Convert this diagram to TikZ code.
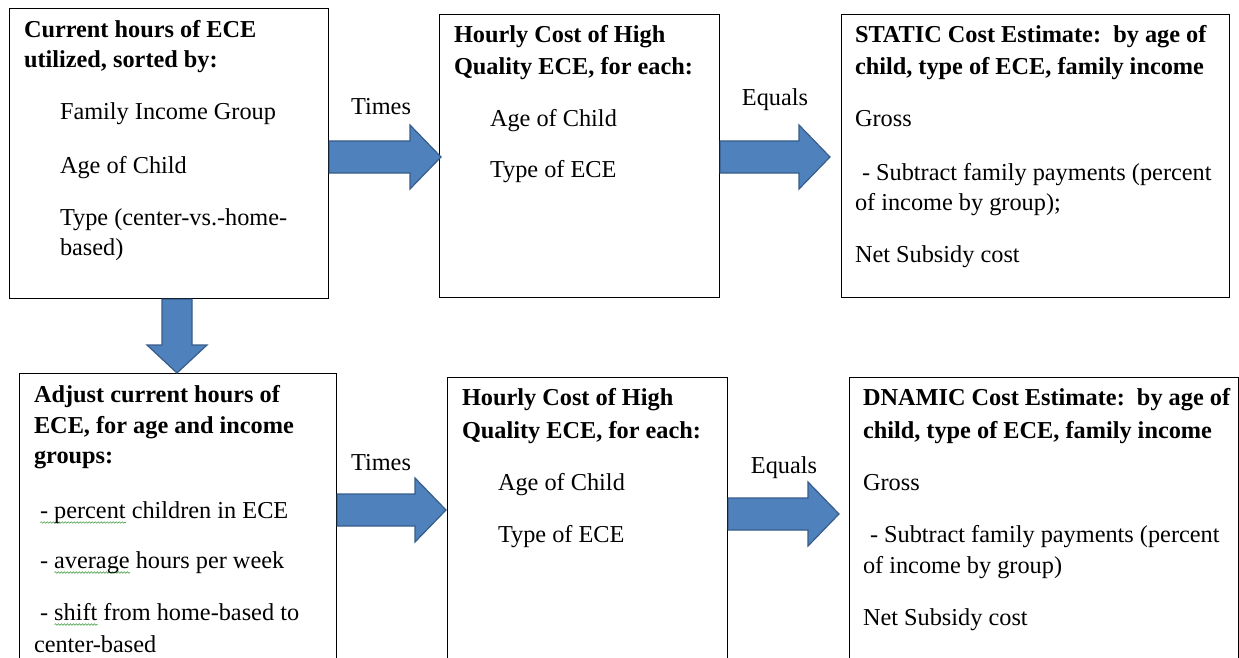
\documentclass[tikz,border=0pt]{standalone}
\usepackage{fontspec}
\setmainfont{Liberation Serif}
\usetikzlibrary{calc,decorations.pathmorphing}

\definecolor{arrowfill}{RGB}{79,129,189}
\definecolor{arrowline}{RGB}{56,93,138}
\definecolor{spellgreen}{RGB}{70,160,70}

% wavy green underline under a word
\newlength\spellwd
\newcommand\spellmark[1]{\settowidth\spellwd{#1}\leavevmode\rlap{\tikz[baseline=0pt]\draw[spellgreen,line width=0.55pt,decorate,decoration={snake,amplitude=0.8pt,segment length=3pt}] (0pt,-4.5pt) -- (\spellwd,-4.5pt);}#1}

% horizontal block arrow from the x of #1 to the tip #2
\newcommand\harrow[2]{\filldraw[blockarrow] let \p1=(#1), \p2=(#2) in
  (\x1,\y2+16pt) -- (\x2-31pt,\y2+16pt) -- (\x2-31pt,\y2+32pt) -- (\x2,\y2)
  -- (\x2-31pt,\y2-32pt) -- (\x2-31pt,\y2-16pt) -- (\x1,\y2-16pt) -- cycle;}
% vertical block arrow from the y of #1 down to the tip #2
\newcommand\varrow[2]{\filldraw[blockarrow] let \p1=(#1), \p2=(#2) in
  (\x2-15pt,\y1) -- (\x2-15pt,\y2+28pt) -- (\x2-30pt,\y2+28pt) -- (\x2,\y2)
  -- (\x2+30pt,\y2+28pt) -- (\x2+15pt,\y2+28pt) -- (\x2+15pt,\y1) -- cycle;}

\tikzset{
  box/.style={draw=black,line width=1.1pt,fill=white,anchor=north west,inner sep=0pt},
  blockarrow/.style={fill=arrowfill,draw=arrowline,line width=1.2pt,line join=miter},
  line/.style={anchor=base west,inner sep=0pt,outer sep=0pt},
  lbl/.style={anchor=base,inner sep=0pt},
}

\begin{document}
\begin{tikzpicture}[x=1pt,y=-1pt,font=\fontsize{24.3}{29}\selectfont]
\useasboundingbox (0,0) rectangle (1239,658);
\clip (0,0) rectangle (1239,658);
\fill[white] (0,0) rectangle (1239,658);

% boxes
\node[box,minimum width=319pt,minimum height=290pt] (A) at (9,8) {};
\node[box,minimum width=280pt,minimum height=283pt] (B) at (439,14) {};
\node[box,minimum width=388pt,minimum height=283pt] (C) at (841,14) {};
\node[box,minimum width=317pt,minimum height=330pt] (D) at (19,373) {};
\node[box,minimum width=280pt,minimum height=330pt] (E) at (447,377) {};
\node[box,minimum width=389pt,minimum height=330pt] (F) at (849,377) {};

% text of the boxes
\foreach \x/\y/\t [count=\i] in {
  24/38/{\bfseries Current hours of ECE},
  24/68/{\bfseries utilized, sorted by:},
  60/120/{Family Income Group},
  60/173/{Age of Child},
  60/225/{Type (center-vs.-home-},
  60/255/{based)}}
  \node[line] (a\i) at (\x,\y) {\t};

\foreach \x/\y/\t [count=\i] in {
  454/43/{\bfseries Hourly Cost of High},
  454/75/{\bfseries Quality ECE, for each:},
  490/127/{Age of Child},
  490/177/{Type of ECE}}
  \node[line] (b\i) at (\x,\y) {\t};

\foreach \x/\y/\t [count=\i] in {
  855/43/{\bfseries STATIC Cost Estimate:\ \ by age of},
  855/75/{\bfseries child, type of ECE, family income},
  855/127/{Gross},
  862/180/{- Subtract family payments (percent},
  855/210/{of income by group);},
  855/262/{Net Subsidy cost}}
  \node[line] (c\i) at (\x,\y) {\t};

\foreach \x/\y/\t [count=\i] in {
  34/402/{\bfseries Adjust current hours of},
  34/433/{\bfseries ECE, for age and income},
  34/463/{\bfseries groups:},
  40/518/{\spellmark{- percent} children in ECE},
  40/568/{- \spellmark{average} hours per week},
  40/620/{- \spellmark{shift} from home-based to},
  34/652/{center-based}}
  \node[line] (d\i) at (\x,\y) {\t};

\foreach \x/\y/\t [count=\i] in {
  462/405/{\bfseries Hourly Cost of High},
  462/438/{\bfseries Quality ECE, for each:},
  498/490/{Age of Child},
  498/542/{Type of ECE}}
  \node[line] (e\i) at (\x,\y) {\t};

\foreach \x/\y/\t [count=\i] in {
  863/405/{\bfseries DNAMIC Cost Estimate:\ \ by age of},
  863/438/{\bfseries child, type of ECE, family income},
  863/490/{Gross},
  870/542/{- Subtract family payments (percent},
  863/573/{of income by group)},
  863/625/{Net Subsidy cost}}
  \node[line] (f\i) at (\x,\y) {\t};

% arrow tips
\coordinate (tAB) at ([xshift=2pt]B.west |- 0,157);
\coordinate (tBC) at ([xshift=-11pt]C.west |- 0,157);
\coordinate (tAD) at (D.north -| 177,0);
\coordinate (tDE) at ([xshift=-1pt]E.west |- 0,510);
\coordinate (tEF) at ([xshift=-10pt]F.west |- 0,514);

% block arrows
\harrow{A.east}{tAB}
\harrow{B.east}{tBC}
\varrow{A.south}{tAD}
\harrow{D.east}{tDE}
\harrow{E.east}{tEF}

% arrow labels
\node[lbl] (times1) at (381,114) {Times};
\node[lbl] (equals1) at (775,106) {Equals};
\node[lbl] (times2) at (381,470) {Times};
\node[lbl] (equals2) at (784,473) {Equals};
\end{tikzpicture}
\end{document}
